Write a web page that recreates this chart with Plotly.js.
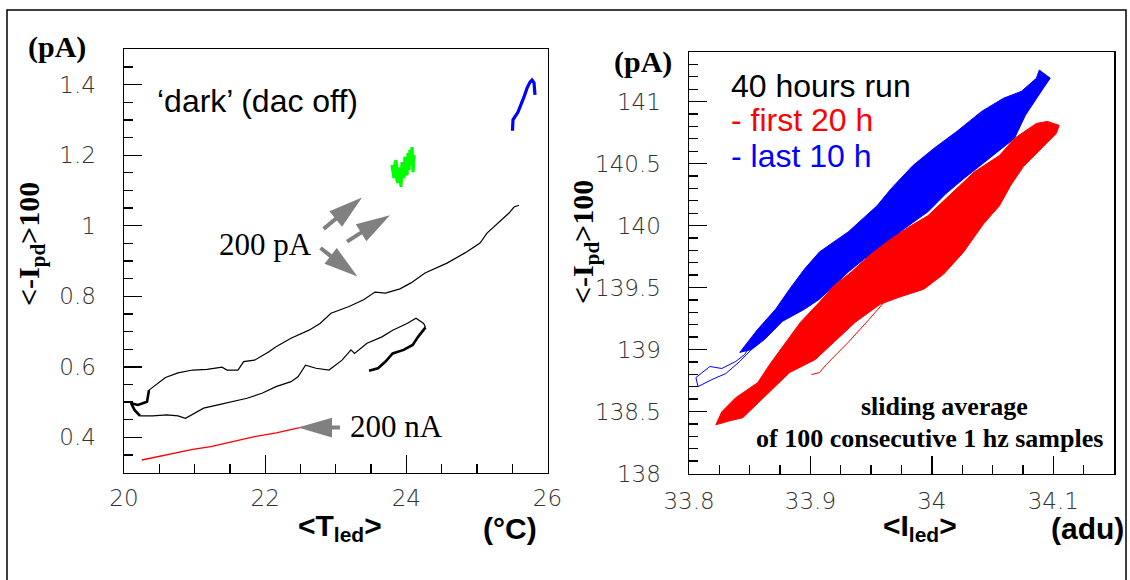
<!DOCTYPE html>
<html>
<head>
<meta charset="utf-8">
<script src="https://cdn.plot.ly/plotly-3.0.1.min.js"></script>
<style>html,body{margin:0;padding:0;background:#fff;}#chart{width:1130px;height:580px;}</style>
</head>
<body>
<div id="chart"></div>
<script>
// ---------- Left panel: <-Ipd>100 vs <Tled> ----------
const upperX = [25.597, 25.526, 25.455, 25.299, 25.143, 25.044, 24.831, 24.576, 24.265, 24.066, 23.910, 23.705, 23.556, 23.395, 23.188, 22.933, 22.777, 22.621, 22.366, 22.154, 22.054, 21.849, 21.695, 21.615, 21.459, 21.389, 21.176, 20.973, 20.765, 20.588, 20.459, 20.354];
const upperY = [1.058, 1.053, 1.036, 1.008, 0.979, 0.951, 0.923, 0.894, 0.866, 0.838, 0.821, 0.809, 0.812, 0.790, 0.771, 0.752, 0.723, 0.704, 0.681, 0.657, 0.643, 0.619, 0.615, 0.591, 0.591, 0.599, 0.593, 0.591, 0.583, 0.570, 0.549, 0.534];
const loopX = [20.354, 20.326, 20.198, 20.099, 20.149, 20.227];
const loopY = [0.534, 0.501, 0.492, 0.497, 0.478, 0.461];
const lowerX = [20.227, 20.407, 20.609, 20.765, 20.871, 20.973, 21.128, 21.332, 21.540, 21.743, 21.955, 22.154, 22.366, 22.465, 22.572, 22.720, 22.904, 23.089, 23.216, 23.266, 23.443, 23.655, 23.807, 24.010, 24.137, 24.245, 24.272];
const lowerY = [0.461, 0.461, 0.464, 0.461, 0.454, 0.466, 0.483, 0.492, 0.501, 0.511, 0.525, 0.544, 0.558, 0.572, 0.605, 0.596, 0.591, 0.619, 0.648, 0.638, 0.667, 0.685, 0.704, 0.723, 0.738, 0.723, 0.712];
const hookX = [24.272, 24.166, 24.090, 23.962, 23.807, 23.705, 23.599, 23.471];
const hookY = [0.712, 0.685, 0.662, 0.648, 0.638, 0.615, 0.596, 0.589];
const nAX = [20.252, 20.459, 20.716, 20.973, 21.231, 21.540, 21.849, 22.159, 22.519];
const nAY = [0.336, 0.345, 0.355, 0.366, 0.374, 0.388, 0.402, 0.413, 0.429];
const greenX = [23.797, 23.811, 23.825, 23.840, 23.854, 23.868, 23.882, 23.896, 23.910, 23.925, 23.939, 23.953, 23.967, 23.981, 23.995, 24.010, 24.024, 24.038, 24.052, 24.066, 24.080, 24.095, 24.109];
const greenY = [1.172, 1.150, 1.135, 1.176, 1.186, 1.128, 1.121, 1.165, 1.158, 1.110, 1.180, 1.172, 1.135, 1.195, 1.150, 1.144, 1.206, 1.158, 1.215, 1.172, 1.223, 1.152, 1.201];
const darkBlueX = [25.504, 25.511, 25.582, 25.625, 25.667, 25.710, 25.752, 25.781, 25.809, 25.823];
const darkBlueY = [1.269, 1.300, 1.322, 1.342, 1.365, 1.390, 1.407, 1.413, 1.405, 1.371];

// ---------- Right panel: <-Ipd>100 vs <Iled> ----------
const redBandX = [33.8221, 33.8270, 33.8385, 33.8566, 33.8664, 33.8770, 33.8918, 33.9074, 33.9189, 33.9336, 33.9500, 33.9664, 33.9811, 33.9967, 34.0115, 34.0262, 34.0352, 34.0557, 34.0680, 34.0861, 34.0951, 34.1049,
                  34.1025, 34.0918, 34.0754, 34.0648, 34.0557, 34.0426, 34.0262, 34.0098, 33.9934, 33.9730, 33.9574, 33.9369, 33.9221, 33.9041, 33.8828, 33.8623, 33.8443, 33.8336, 33.8221];
const redBandY = [138.393, 138.498, 138.612, 138.733, 138.879, 139.025, 139.220, 139.382, 139.511, 139.625, 139.771, 139.892, 139.989, 140.079, 140.216, 140.354, 140.435, 140.565, 140.703, 140.824, 140.840, 140.808,
                  140.743, 140.638, 140.476, 140.322, 140.160, 140.014, 139.787, 139.609, 139.487, 139.422, 139.365, 139.220, 139.082, 138.920, 138.814, 138.620, 138.450, 138.425, 138.393];
const redStrandX = [33.9008, 33.9074, 33.9131, 33.9311, 33.9484, 33.9607];
const redStrandY = [138.798, 138.814, 138.879, 139.058, 139.244, 139.382];
const blueBandX = [33.8418, 33.8566, 33.8713, 33.8828, 33.8951, 33.9074, 33.9311, 33.9549, 33.9664, 33.9844, 34.0016, 34.0205, 34.0410, 34.0590, 34.0738, 34.0861, 34.0885, 34.0975,
                   34.0918, 34.0770, 34.0680, 34.0467, 34.0262, 34.0115, 33.9967, 33.9770, 33.9607, 33.9443, 33.9311, 33.9189, 33.9074, 33.8951, 33.8770, 33.8623, 33.8516, 33.8418];
const blueBandY = [138.977, 139.163, 139.325, 139.487, 139.649, 139.787, 139.949, 140.160, 140.297, 140.484, 140.622, 140.759, 140.921, 141.027, 141.083, 141.189, 141.254, 141.189,
                   141.108, 140.889, 140.703, 140.541, 140.378, 140.257, 140.111, 139.973, 139.835, 139.730, 139.625, 139.511, 139.406, 139.325, 139.228, 139.082, 139.001, 138.977];
const blueTailX = [33.8074, 33.8057, 33.8172, 33.8270, 33.8385, 33.8459, 33.8566];
const blueTailY = [138.701, 138.774, 138.863, 138.847, 138.904, 138.960, 139.122];
const blueTail2X = [33.8074, 33.8090, 33.8189, 33.8303, 33.8418, 33.8516];
const blueTail2Y = [138.701, 138.709, 138.758, 138.806, 138.904, 139.001];

const leftXTicks = {dtick: 2, tick0: 20, minor: 0.5};
const leftYTicks = {dtick: 0.2, tick0: 0.4, minor: 0.05};
const rightXTicks = {dtick: 0.1, tick0: 33.8, minor: 0.025};
const rightYTicks = {dtick: 0.5, tick0: 138, minor: 0.1};

function ln(x, y, color, width, xa, ya) {
  return {x: x, y: y, type: 'scatter', mode: 'lines', line: {color: color, width: width},
          xaxis: xa, yaxis: ya, hoverinfo: 'skip', showlegend: false};
}
const traces = [
  ln(upperX, upperY, '#000', 1.2, 'x', 'y'),
  ln(loopX, loopY, '#000', 2.6, 'x', 'y'),
  ln(lowerX, lowerY, '#000', 1.2, 'x', 'y'),
  ln(hookX, hookY, '#000', 2.6, 'x', 'y'),
  ln(nAX, nAY, '#ff0000', 1.3, 'x', 'y'),
  ln(greenX, greenY, '#00ff00', 3.2, 'x', 'y'),
  ln(darkBlueX, darkBlueY, '#0000ff', 3.2, 'x', 'y'),
  Object.assign(ln(blueBandX, blueBandY, '#0000ff', 1, 'x2', 'y2'), {fill: 'toself', fillcolor: '#0000ff'}),
  ln(blueTailX, blueTailY, '#0000ff', 1, 'x2', 'y2'),
  ln(blueTail2X, blueTail2Y, '#0000ff', 1, 'x2', 'y2'),
  Object.assign(ln(redBandX, redBandY, '#ff0000', 1, 'x2', 'y2'), {fill: 'toself', fillcolor: '#ff0000'}),
  ln(redStrandX, redStrandY, '#ff0000', 1, 'x2', 'y2')
];

const tickFont = {family: 'DejaVu Sans', size: 23, color: '#333', weight: 200};
function axis(dom, rng, t, anchor, standoff) {
  return {domain: dom, range: rng, anchor: anchor, showline: true, linecolor: '#000', linewidth: 1.5, mirror: true,
          ticks: 'inside', ticklen: 18, tickwidth: 1.3, tickcolor: '#000', dtick: t.dtick, tick0: t.tick0,
          minor: {ticks: 'inside', ticklen: 9, tickwidth: 1.3, tickcolor: '#000', dtick: t.minor, showgrid: false},
          showgrid: false, zeroline: false, tickfont: tickFont, ticklabelstandoff: standoff, fixedrange: true};
}
const W = 1130, H = 580;
const px = v => v / W, py = v => 1 - v / H;
function ann(text, x, y, font, opts) {
  return Object.assign({text: text, x: px(x), y: py(y), xref: 'paper', yref: 'paper', showarrow: false,
                        xanchor: 'center', yanchor: 'middle', font: font}, opts || {});
}
const serifB30 = {family: 'Liberation Serif', size: 30, color: '#000', weight: 'bold'};
const sansB30 = {family: 'Liberation Sans', size: 30, color: '#000', weight: 'bold'};
const sans32 = c => ({family: 'Liberation Sans', size: 32, color: c});
const serif31 = {family: 'Liberation Serif', size: 31, color: '#000'};
const serifB26 = {family: 'Liberation Serif', size: 26, color: '#000', weight: 'bold'};

const annotations = [
  ann('(pA)', 57, 47, serifB30),
  ann('(pA)', 643, 62.5, serifB30),
  ann('&lt;-I<sub>pd</sub>&gt;100', 31, 244, serifB30, {textangle: -90}),
  ann('&lt;-I<sub>pd</sub>&gt;100', 585, 242, serifB30, {textangle: -90}),
  ann('&lt;T<sub>led</sub>&gt;', 340, 527, sansB30),
  ann('(°C)', 510, 528.5, sansB30),
  ann('&lt;I<sub>led</sub>&gt;', 920, 527, sansB30),
  ann('(adu)', 1087, 528.5, sansB30),
  ann('‘dark’ (dac off)', 154.5, 100.7, sans32('#000'), {xanchor: 'left'}),
  ann('200 pA', 265.5, 244.5, serif31),
  ann('200 nA', 396, 426, serif31),
  ann('40 hours run', 728.6, 85.5, sans32('#000'), {xanchor: 'left'}),
  ann('- first 20 h', 728.6, 120.5, sans32('#ff0000'), {xanchor: 'left'}),
  ann('- last 10 h', 728.6, 155.5, sans32('#0000ff'), {xanchor: 'left'}),
  ann('sliding average', 944, 406, serifB26),
  ann('of 100 consecutive 1 hz samples', 930, 438, serifB26)
];

const grey = '#808080';
function shaft(x0, y0, x1, y1) {
  return {type: 'line', xref: 'x', yref: 'y', x0: x0, y0: y0, x1: x1, y1: y1, line: {color: grey, width: 4}};
}
function head(pts) {
  return {type: 'path', xref: 'x', yref: 'y', fillcolor: grey, line: {width: 0},
          path: 'M' + pts.map(p => p[0] + ',' + p[1]).join('L') + 'Z'};
}
const shapes = [
  {type: 'rect', xref: 'paper', yref: 'paper', x0: px(7), x1: px(1126), y0: -0.05, y1: py(10), line: {color: '#000', width: 1.5}},
  shaft(22.828, 0.991, 23.010, 1.021), head([[23.372, 1.080], [23.089, 0.997], [22.910, 1.041]]),
  shaft(23.160, 0.955, 23.370, 0.982), head([[23.769, 1.030], [23.434, 0.956], [23.284, 1.004]]),
  shaft(22.784, 0.937, 22.935, 0.913), head([[23.308, 0.856], [22.841, 0.892], [23.014, 0.937]]),
  shaft(23.060, 0.428, 22.930, 0.428), head([[22.465, 0.428], [22.947, 0.456], [22.947, 0.400]])
];

const layout = {
  width: W, height: H, margin: {l: 0, r: 0, t: 0, b: 0},
  paper_bgcolor: '#fff', plot_bgcolor: '#fff', showlegend: false,
  xaxis: axis([124 / W, 547.5 / W], [20, 26], leftXTicks, 'y', 4),
  yaxis: axis([1 - 472.7 / H, 1 - 49.3 / H], [0.3, 1.5], leftYTicks, 'x', 22),
  xaxis2: axis([689 / W, 1114 / W], [33.8, 34.15], rightXTicks, 'y2', 6),
  yaxis2: axis([1 - 473.5 / H, 1 - 52 / H], [138, 141.4], rightYTicks, 'x2', 22),
  annotations: annotations,
  shapes: shapes
};
Plotly.newPlot('chart', traces, layout, {staticPlot: true, displayModeBar: false});
</script>
</body>
</html>
